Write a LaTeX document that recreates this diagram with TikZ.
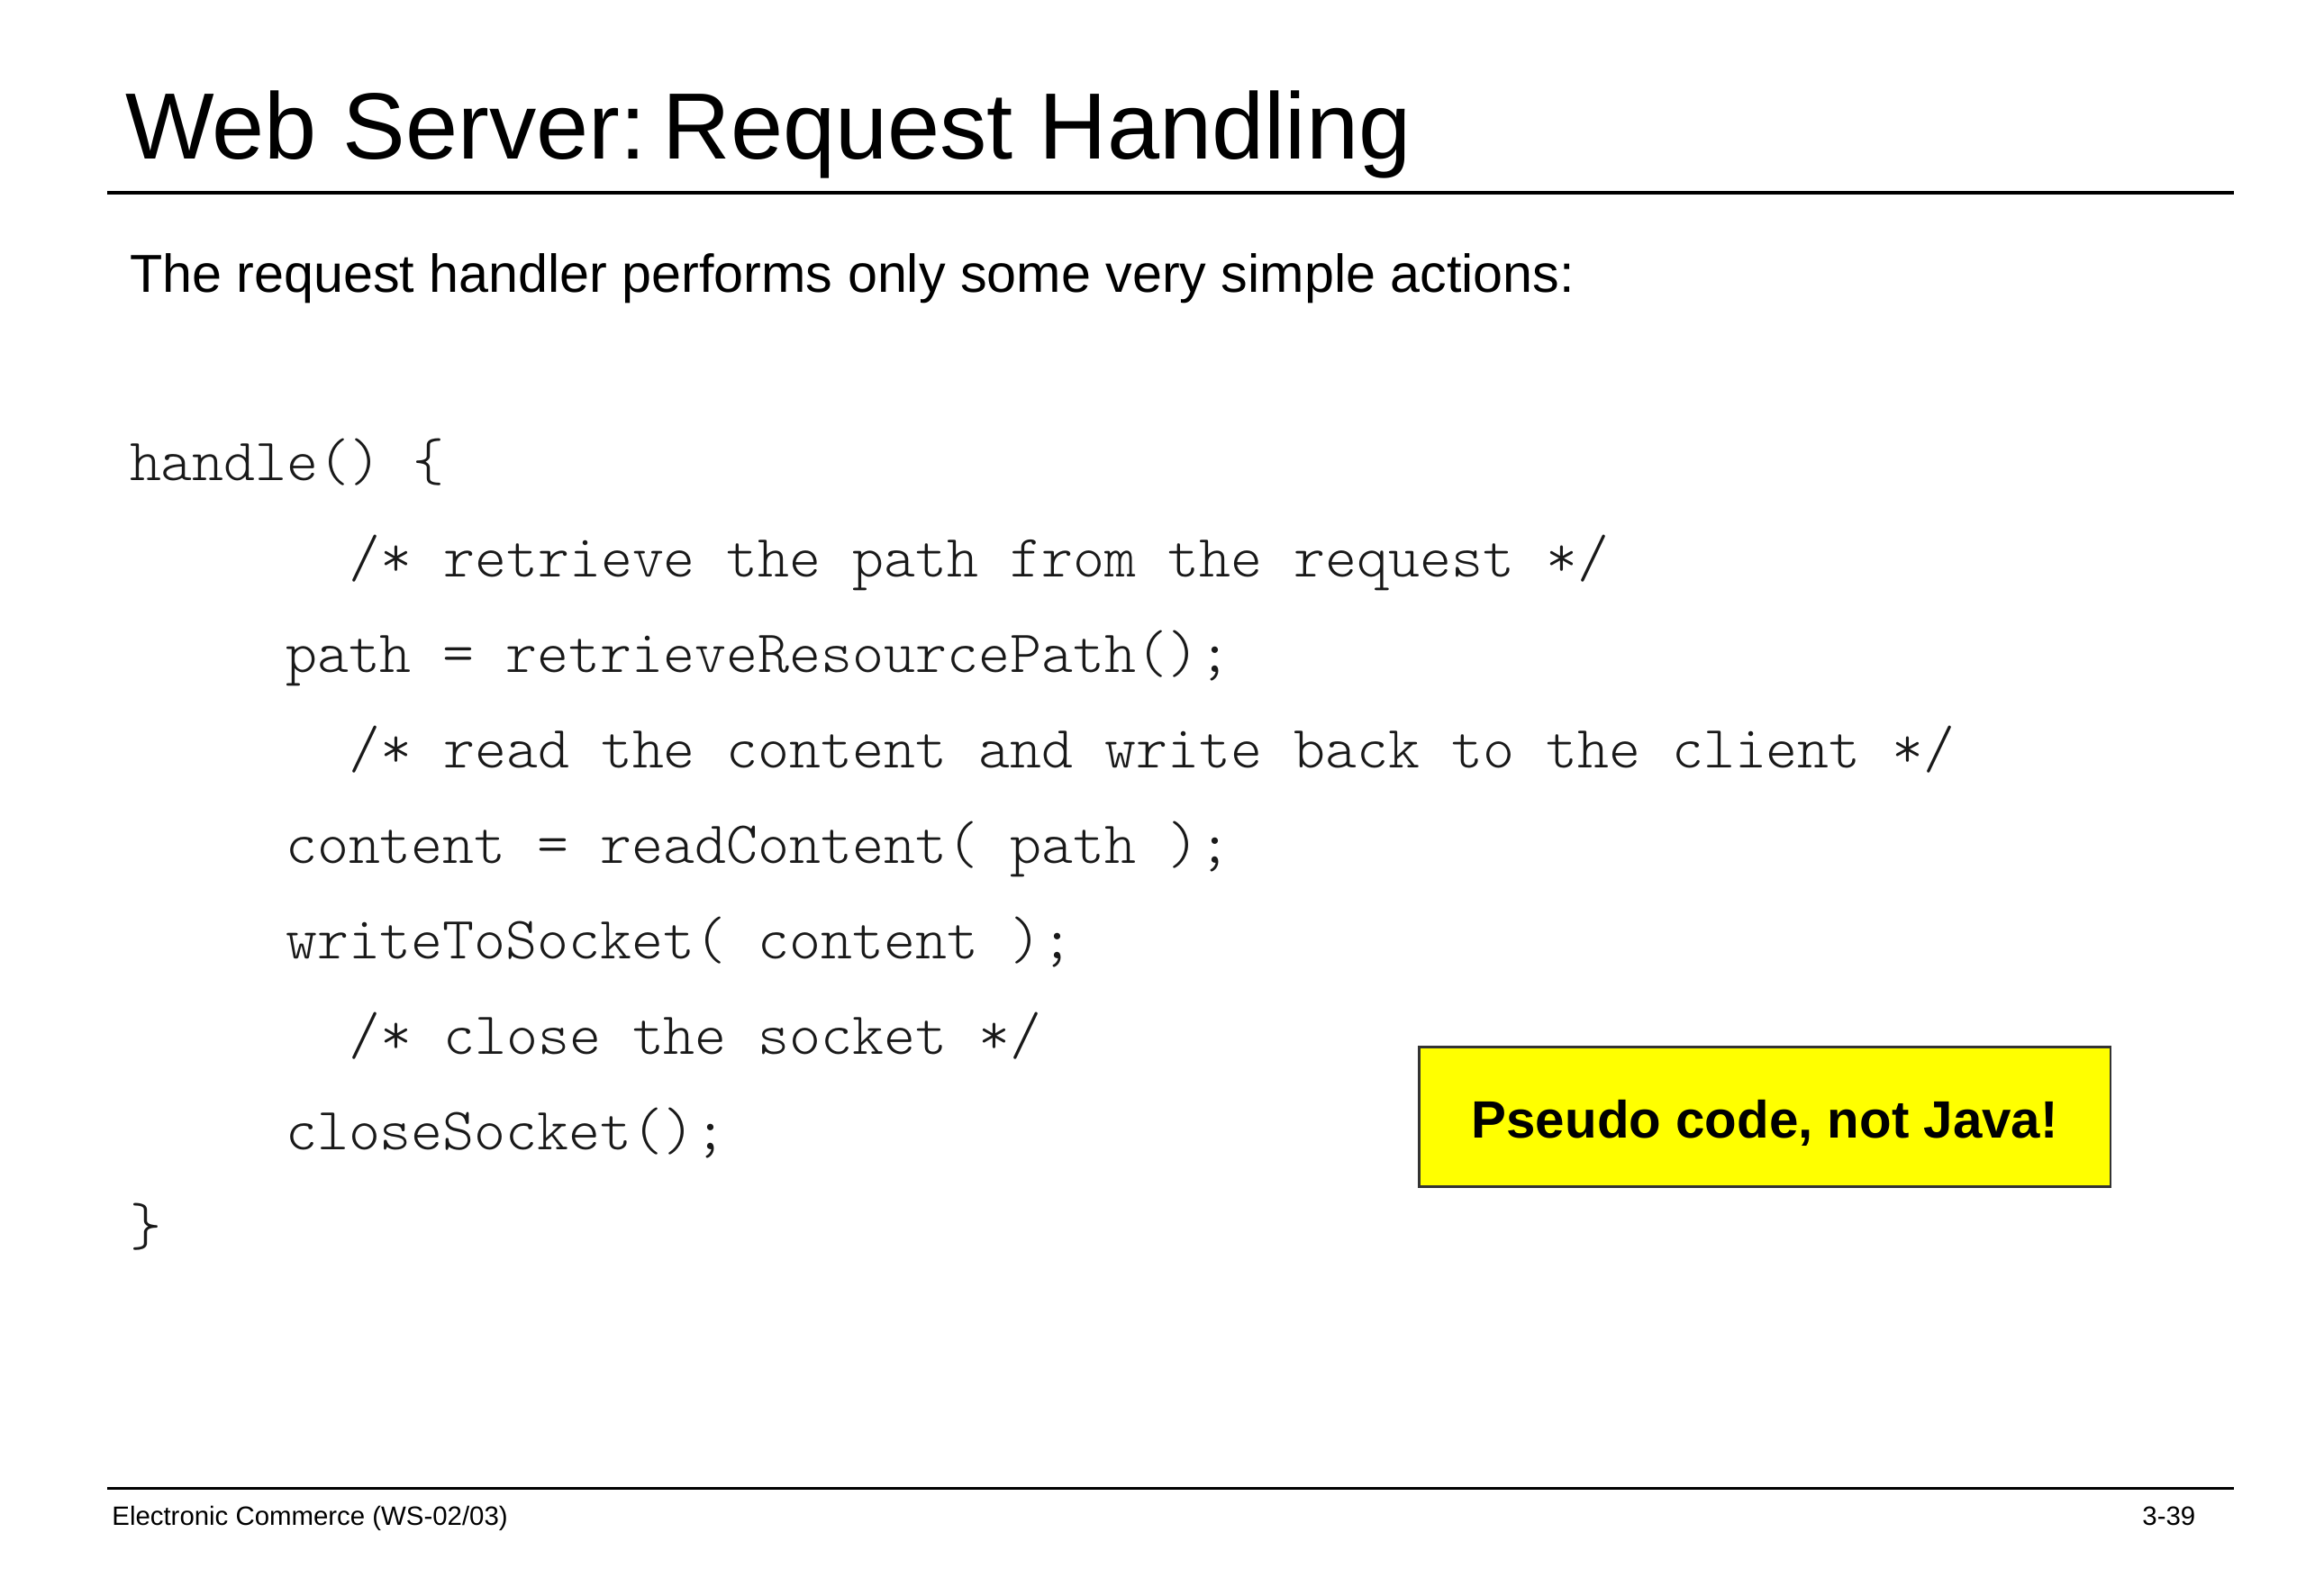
\documentclass[tikz,border=0pt]{standalone}
\usepackage{fontspec}
\setmainfont{Liberation Sans}
\setmonofont{Latin Modern Mono Light}
\usepackage{tikz}
\definecolor{noteyellow}{RGB}{255,255,0}
\tikzset{
  codeline/.style={anchor=base west, inner sep=0, text=black!90, font=\ttfamily\fontsize{40.8}{44}\selectfont},
  notebox/.style={draw=black!80, line width=1.5, fill=noteyellow, inner sep=0, minimum width=470, minimum height=95},
  footer/.style={inner sep=0, font=\fontsize{18}{20}\selectfont}
}

\begin{document}
\begin{tikzpicture}[x=1pt, y=1pt]
			%%%%% START %%%%%
			\useasboundingbox (0, 0) rectangle (1568, -1085);
			\fill[white] (0, 0) rectangle (1568, -1085);
			
			\node[anchor=base west, inner sep=0, font=\fontsize{64}{70}\selectfont] (title) at (85, -108) {Web Server:\kern11pt Request Handling};
			\draw[line width=2] (73, -131) -- (1519, -131);
			
			\node[anchor=base west, inner sep=0, font=\fontsize{36.3}{42}\selectfont] (intro) at (88, -199) {The request handler performs only some very simple actions:};
			
			\node[codeline] (head) at (88, -327) {handle() \{};
			\node[codeline] (cmtpath) at (237, -392) {/* retrieve the path from the request */};
			\node[codeline] (path) at (194, -457) {path = retrieveResourcePath();};
			\node[codeline] (cmtread) at (237, -522) {/* read the content and write back to the client */};
			\node[codeline] (content) at (194, -587) {content = readContent( path );};
			\node[codeline] (write) at (194, -652) {writeToSocket( content );};
			\node[codeline] (cmtclose) at (237, -717) {/* close the socket */};
			\node[codeline] (close) at (194, -782) {closeSocket();};
			\node[codeline] (tail) at (88, -847) {\}};
			
			\node[notebox] (note) at (1200, -759.5) {};
			\node[anchor=base, inner sep=0, font=\bfseries\fontsize{35.7}{40}\selectfont] (notetext) at (1200, -774) {Pseudo code, not Java!};
			
			\draw[line width=2] (73, -1012) -- (1519, -1012);
			\node[footer, anchor=base west] (course) at (76, -1037) {Electronic Commerce (WS-02/03)};
			\node[footer, anchor=base east] (page) at (1493, -1037) {3-39};
			%%%%% END %%%%%
\end{tikzpicture}
\end{document}
